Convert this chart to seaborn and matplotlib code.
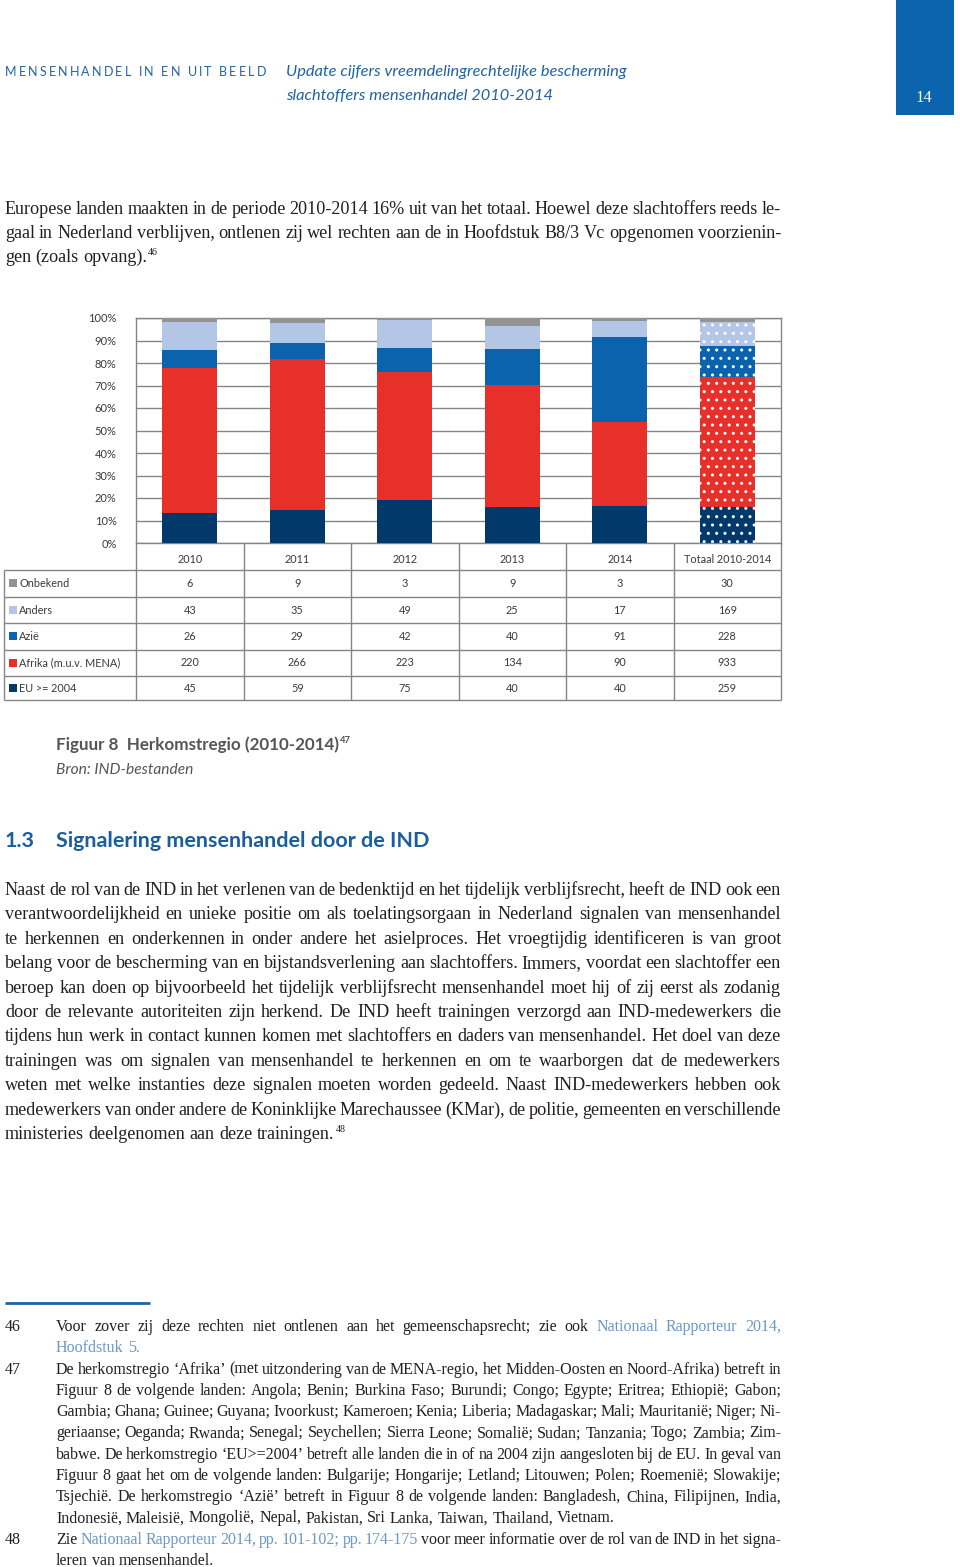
import matplotlib
matplotlib.use("Agg")
import matplotlib.pyplot as plt
from matplotlib.font_manager import FontProperties
from matplotlib.patches import Rectangle
import numpy as np
import seaborn as sns

# ---------------- data ----------------
categories = ["2010", "2011", "2012", "2013", "2014", "Totaal 2010-2014"]
eu_2004 = [45, 59, 75, 40, 40, 259]
afrika = [220, 266, 223, 134, 90, 933]
azie = [26, 29, 42, 40, 91, 228]
anders = [43, 35, 49, 25, 17, 169]
onbekend = [6, 9, 3, 9, 3, 30]
series_labels = ["EU >= 2004", "Afrika (m.u.v. MENA)", "Azië", "Anders", "Onbekend"]
series_values = [eu_2004, afrika, azie, anders, onbekend]
series_colors = ["#01396b", "#e8302a", "#0b63ad", "#b4c6e6", "#939393"]
y_ticks = [0, 10, 20, 30, 40, 50, 60, 70, 80, 90, 100]
y_tick_labels = ["0%", "10%", "20%", "30%", "40%", "50%", "60%", "70%", "80%", "90%", "100%"]

# ---------------- page text ----------------
header_caps = "MENSENHANDEL IN EN UIT BEELD"
header_title = ["Update cijfers vreemdelingrechtelijke bescherming",
                "slachtoffers mensenhandel 2010-2014"]
page_number = "14"
para1 = [
    "Europese landen maakten in de periode 2010-2014 16% uit van het totaal. Hoewel deze slachtoffers reeds le-",
    "gaal in Nederland verblijven, ontlenen zij wel rechten aan de in Hoofdstuk B8/3 Vc opgenomen voorzienin-",
    "gen (zoals opvang).",
]
caption_title = "Figuur 8  Herkomstregio (2010-2014)"
caption_source = "Bron: IND-bestanden"
section_num = "1.3"
section_title = "Signalering mensenhandel door de IND"
para2 = [
    "Naast de rol van de IND in het verlenen van de bedenktijd en het tijdelijk verblijfsrecht, heeft de IND ook een",
    "verantwoordelijkheid en unieke positie om als toelatingsorgaan in Nederland signalen van mensenhandel",
    "te herkennen en onderkennen in onder andere het asielproces. Het vroegtijdig identificeren is van groot",
    "belang voor de bescherming van en bijstandsverlening aan slachtoffers. Immers, voordat een slachtoffer een",
    "beroep kan doen op bijvoorbeeld het tijdelijk verblijfsrecht mensenhandel moet hij of zij eerst als zodanig",
    "door de relevante autoriteiten zijn herkend. De IND heeft trainingen verzorgd aan IND-medewerkers die",
    "tijdens hun werk in contact kunnen komen met slachtoffers en daders van mensenhandel. Het doel van deze",
    "trainingen was om signalen van mensenhandel te herkennen en om te waarborgen dat de medewerkers",
    "weten met welke instanties deze signalen moeten worden gedeeld. Naast IND-medewerkers hebben ook",
    "medewerkers van onder andere de Koninklijke Marechaussee (KMar), de politie, gemeenten en verschillende",
    "ministeries deelgenomen aan deze trainingen.",
]
footnotes = [
    ("46", [
        "Voor zover zij deze rechten niet ontlenen aan het gemeenschapsrecht; zie ook [Nationaal Rapporteur 2014,]",
        "[Hoofdstuk 5.]",
    ]),
    ("47", [
        "De herkomstregio ‘Afrika’ (met uitzondering van de MENA-regio, het Midden-Oosten en Noord-Afrika) betreft in",
        "Figuur 8 de volgende landen: Angola; Benin; Burkina Faso; Burundi; Congo; Egypte; Eritrea; Ethiopië; Gabon;",
        "Gambia; Ghana; Guinee; Guyana; Ivoorkust; Kameroen; Kenia; Liberia; Madagaskar; Mali; Mauritanië; Niger; Ni-",
        "geriaanse; Oeganda; Rwanda; Senegal; Seychellen; Sierra Leone; Somalië; Sudan; Tanzania; Togo; Zambia; Zim-",
        "babwe. De herkomstregio ‘EU>=2004’ betreft alle landen die in of na 2004 zijn aangesloten bij de EU. In geval van",
        "Figuur 8 gaat het om de volgende landen: Bulgarije; Hongarije; Letland; Litouwen; Polen; Roemenië; Slowakije;",
        "Tsjechië. De herkomstregio ‘Azië’ betreft in Figuur 8 de volgende landen: Bangladesh, China, Filipijnen, India,",
        "Indonesië, Maleisië, Mongolië, Nepal, Pakistan, Sri Lanka, Taiwan, Thailand, Vietnam.",
    ]),
    ("48", [
        "Zie [Nationaal Rapporteur 2014, pp. 101-102; pp. 174-175] voor meer informatie over de rol van de IND in het signa-",
        "leren van mensenhandel.",
    ]),
]

# ---------------- style ----------------
W, H = 960, 1567
HEADER_BLUE = "#2063a5"
BOX_BLUE = "#0b64ad"
HEAD_BLUE = "#1b5e9d"
TEXT = "#231f20"
CAP_GRAY = "#555555"
LINK = "#6a98c8"
GRID = "#858585"
SANS = "Lato"
SERIF = "Liberation Serif"

sns.set_theme(style="white")
plt.rcParams["font.family"] = ["Lato", "DejaVu Sans"]

fig = plt.figure(figsize=(W / 100, H / 100), dpi=100)
page = fig.add_axes([0, 0, 1, 1])
page.set_xlim(0, W)
page.set_ylim(H, 0)
page.axis("off")
renderer = fig.canvas.get_renderer()


def fp(family, size, weight="normal", style="normal"):
    return FontProperties(family=family, size=size, weight=weight, style=style)


def tw(s, prop):
    return renderer.get_text_width_height_descent(s, prop, ismath=False)[0]


def parse(line):
    toks, link = [], False
    for w in line.split(" "):
        if not w:
            continue
        if w.startswith("["):
            link, w = True, w[1:]
        end = w.endswith("]")
        if end:
            w = w[:-1]
        toks.append((w, link))
        if end:
            link = False
    return toks


def fit_size(blocks, width, family, max_size, min_gap):
    size = max_size
    ref = fp(family, 12)
    for lines in blocks:
        for line in lines[:-1]:
            toks = parse(line)
            ww = sum(tw(w, ref) for w, _ in toks)
            size = min(size, 12 * (width - min_gap * (len(toks) - 1)) / ww)
    return size


def draw_block(lines, x0, x1, baselines, prop, color):
    space = tw("n n", prop) - tw("nn", prop)
    end_x = x0
    for i, line in enumerate(lines):
        toks = parse(line)
        ws = [tw(w, prop) for w, _ in toks]
        last = i == len(lines) - 1
        gap = space if (last or len(toks) < 2) else (x1 - x0 - sum(ws)) / (len(toks) - 1)
        x = x0
        for (w, link), wd in zip(toks, ws):
            page.text(x, baselines[i], w, fontproperties=prop,
                      color=LINK if link else color, ha="left", va="baseline")
            x += wd + gap
        end_x = x - gap
    return end_x


def fit_text(x0, x1, y, s, family, color, weight="normal", style="normal"):
    size = 12 * (x1 - x0) / tw(s, fp(family, 12, weight, style))
    prop = fp(family, size, weight, style)
    page.text(x0, y, s, fontproperties=prop, color=color, ha="left", va="baseline")
    return x0 + tw(s, prop), size


def tracked(x0, x1, y, s, prop, color):
    ws = [tw(c, prop) if c != " " else tw("n n", prop) - tw("nn", prop) for c in s]
    extra = (x1 - x0 - sum(ws)) / (len(s) - 1)
    x = x0
    for c, wd in zip(s, ws):
        if c != " ":
            page.text(x, y, c, fontproperties=prop, color=color, ha="left", va="baseline")
        x += wd + extra


# ---------------- header ----------------
tracked(5, 266, 76, header_caps, fp(SANS, 9), HEADER_BLUE)
_, hsize = fit_text(286, 627, 76, header_title[0], SANS, HEADER_BLUE, style="italic")
page.text(286, 100, header_title[1], fontproperties=fp(SANS, hsize, style="italic"),
          color=HEADER_BLUE, ha="left", va="baseline")
page.add_patch(Rectangle((896, 0), 58, 115, color=BOX_BLUE, lw=0))
page.text(924, 102, page_number, fontproperties=fp(SERIF, 12), color="white",
          ha="center", va="baseline")

# ---------------- body text ----------------
body_size = fit_size([para1, para2], 776, SERIF, 14, 3.0)
body_prop = fp(SERIF, body_size)
sup_prop = fp(SERIF, body_size * 0.55)

p1_bases = [214 + 24 * i for i in range(len(para1))]
end = draw_block(para1, 5, 781, p1_bases, body_prop, TEXT)
page.text(end + 1, p1_bases[-1] - 7, "46", fontproperties=sup_prop, color=TEXT,
          ha="left", va="baseline")

p2_bases = [895 + 24.4 * i for i in range(len(para2))]
end = draw_block(para2, 5, 781, p2_bases, body_prop, TEXT)
page.text(end + 1, p2_bases[-1] - 7, "48", fontproperties=sup_prop, color=TEXT,
          ha="left", va="baseline")

# ---------------- caption ----------------
cend, csize = fit_text(56, 338, 750, caption_title, SANS, CAP_GRAY, weight="bold")
page.text(cend + 1, 743, "47", fontproperties=fp(SANS, csize * 0.55, weight="bold"),
          color=CAP_GRAY, ha="left", va="baseline")
fit_text(56, 193, 774, caption_source, SANS, CAP_GRAY, style="italic")

# ---------------- section heading ----------------
_, ssize = fit_text(56, 427, 847, section_title, SANS, HEAD_BLUE, weight="bold")
page.text(5, 847, section_num, fontproperties=fp(SANS, ssize, weight="bold"),
          color=HEAD_BLUE, ha="left", va="baseline")

# ---------------- footnotes ----------------
page.plot([5, 150], [1303, 1303], color=HEADER_BLUE, lw=2, solid_capstyle="butt")
fn_size = fit_size([lines for _, lines in footnotes], 725, SERIF, 12.5, 3.0)
fn_prop = fp(SERIF, fn_size)
line_idx = 0
for num, lines in footnotes:
    bases = [1331 + 21.27 * (line_idx + i) for i in range(len(lines))]
    page.text(5, bases[0], num, fontproperties=fn_prop, color=TEXT, ha="left", va="baseline")
    draw_block(lines, 56, 781, bases, fn_prop, TEXT)
    line_idx += len(lines)

# ---------------- chart ----------------
ax = fig.add_axes([136 / W, 1 - 543 / H, (781 - 136) / W, (543 - 318) / H])
totals = np.sum(np.asarray(series_values, dtype=float), axis=0)
bottom = np.zeros(len(categories))
for label, vals, color in zip(series_labels, series_values, series_colors):
    pct = np.asarray(vals, dtype=float) / totals * 100
    sns.barplot(x=categories, y=pct, order=categories, bottom=bottom, color=color,
                saturation=1, width=0.51, errorbar=None, linewidth=0, ax=ax, zorder=3)
    bars = ax.containers[-1]
    tot = bars.patches[-1]
    tot.set_hatch("..")
    tot.set_edgecolor("white")
    tot.set_linewidth(0)
    bottom = bottom + pct

ax.set_ylim(0, 100)
ax.set_xlim(-0.5, len(categories) - 0.5)
ax.set_yticks(y_ticks)
ax.set_yticklabels(y_tick_labels)
ax.yaxis.grid(True, color=GRID, linewidth=1)
ax.xaxis.grid(False)
ax.set_axisbelow(True)
for s in ax.spines.values():
    s.set_color(GRID)
    s.set_linewidth(1)
ax.tick_params(axis="y", length=0, pad=14, labelsize=8, labelcolor="#3a3a3a")
ax.tick_params(axis="x", length=0, pad=8, labelsize=7.8, labelcolor="#3a3a3a")
ax.set_xlabel("")
ax.set_ylabel("")

# ---------------- data table under chart ----------------
def to_px(xd):
    return ax.transData.transform((xd, 0))[0]

col_edges = [to_px(i - 0.5) for i in range(len(categories) + 1)]
col_centers = [to_px(i) for i in range(len(categories))]
row_edges = [570, 597, 623, 650, 676, 700]
line_kw = dict(color=GRID, lw=1, solid_capstyle="butt")
for y in row_edges:
    page.plot([4, col_edges[-1]], [y, y], **line_kw)
page.plot([4, 4], [row_edges[0], row_edges[-1]], **line_kw)
for x in col_edges:
    page.plot([x, x], [543, row_edges[-1]], **line_kw)

for r, (label, vals, color) in enumerate(zip(series_labels[::-1], series_values[::-1],
                                             series_colors[::-1])):
    yc = (row_edges[r] + row_edges[r + 1]) / 2
    page.add_patch(Rectangle((9, yc - 4.5), 8, 8, color=color, lw=0))
    page.text(19, yc, label, fontproperties=fp(SANS, 7.8), color="#3a3a3a",
              ha="left", va="center")
    for xc, v in zip(col_centers, vals):
        page.text(xc, yc, str(v), fontproperties=fp(SANS, 7.8), color="#3a3a3a",
                  ha="center", va="center")

fig.savefig("out.png", dpi=100)
